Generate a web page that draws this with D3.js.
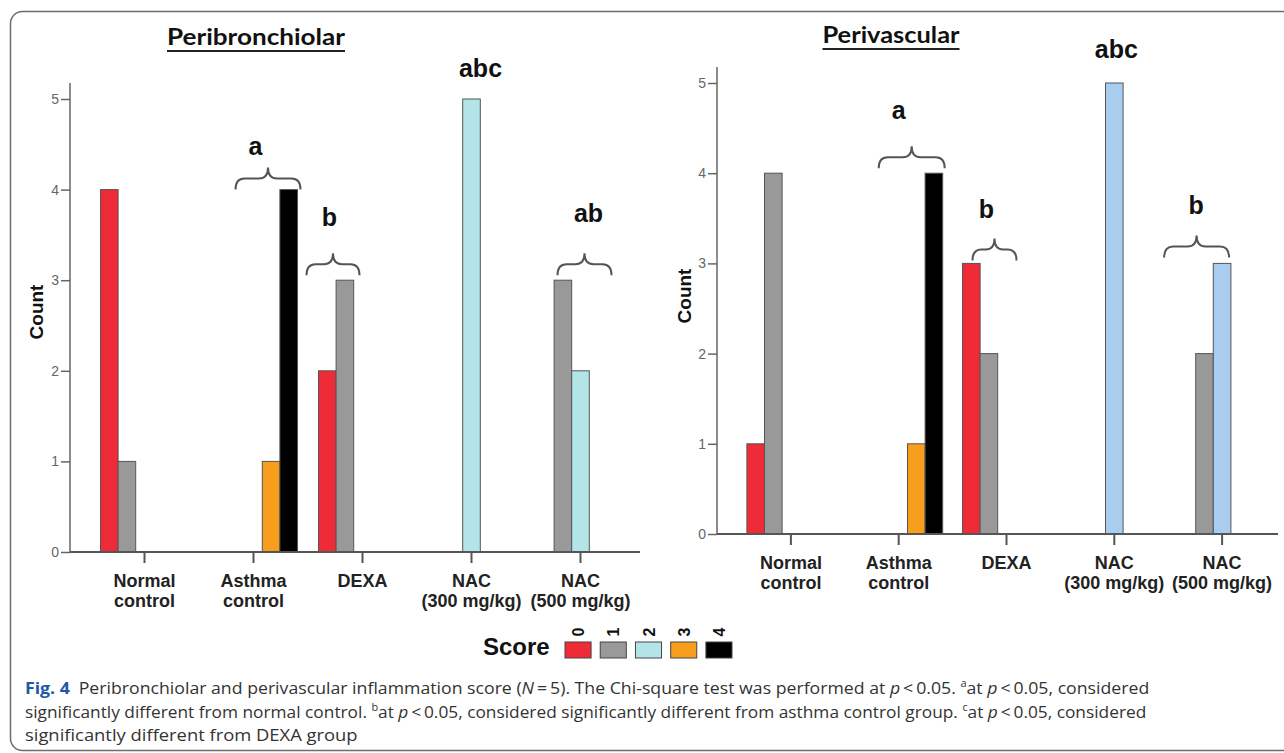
<!DOCTYPE html>
<html lang="en">
<head>
<meta charset="UTF-8" />
<title>Fig. 4 - Inflammation score</title>
<script src="https://d3js.org/d3.v7.min.js"></script>
<style>
  body { margin: 0; background: #fff; }
  svg { display: block; }
  .cat-label { font-family: "Liberation Sans", Arial, sans-serif; font-weight: bold; font-size: 18px; fill: #222; }
  .y-tick text { font-family: "Liberation Sans Narrow", "Liberation Sans", Arial, sans-serif; font-size: 14px; fill: #666; }
  .note { font-family: "Liberation Sans", Arial, sans-serif; font-weight: bold; font-size: 25px; fill: #111; }
  .caption { font-family: "Open Sans", "Noto Sans", sans-serif; font-size: 16px; fill: #333; }
</style>
</head>
<body>
<svg id="fig" width="1284" height="753"></svg>

<script>
// ---- data ----
const categories = ["Normal control", "Asthma control", "DEXA", "NAC (300 mg/kg)", "NAC (500 mg/kg)"];
const categoryLines = [["Normal", "control"], ["Asthma", "control"], ["DEXA"], ["NAC", "(300 mg/kg)"], ["NAC", "(500 mg/kg)"]];
const scores = [0, 1, 2, 3, 4];
const yTicks = [0, 1, 2, 3, 4, 5];

// counts per category, one value per score 0..4
const peribronchiolar = [
  [4, 1, 0, 0, 0],
  [0, 0, 0, 1, 4],
  [2, 3, 0, 0, 0],
  [0, 0, 5, 0, 0],
  [0, 3, 2, 0, 0]
];
const perivascular = [
  [1, 4, 0, 0, 0],
  [0, 0, 0, 1, 4],
  [3, 2, 0, 0, 0],
  [0, 0, 5, 0, 0],
  [0, 2, 3, 0, 0]
];

// significance letters: category index, letter, bar value it sits over
const periNotes = [
  { cat: 1, label: "a",   value: 4 },
  { cat: 2, label: "b",   value: 3 },
  { cat: 3, label: "abc", value: 5 },
  { cat: 4, label: "ab",  value: 3 }
];
const vascNotes = [
  { cat: 1, label: "a",   value: 4 },
  { cat: 2, label: "b",   value: 3 },
  { cat: 3, label: "abc", value: 5 },
  { cat: 4, label: "b",   value: 3 }
];

const scoreColors = ["#ee2b36", "#999999", "#b3e4e8", "#f79f1c", "#000000"];
const scoreColorsVasc = ["#ee2b36", "#999999", "#a9cdee", "#f79f1c", "#000000"];

// ---- layout ----
const svg = d3.select("#fig");

svg.append("rect")
  .attr("x", 10.5).attr("y", 11.5)
  .attr("width", 1320).attr("height", 739)
  .attr("rx", 12)
  .attr("fill", "none")
  .attr("stroke", "#6d6d6d")
  .attr("stroke-width", 1.5);

function bracePath(x0, x1, yb, h) {
  const xm = (x0 + x1) / 2, yt = yb - h, ym = yb - h * 0.5;
  const r = Math.min(9, (x1 - x0) / 5);
  return `M${x0},${yb} Q${x0},${ym} ${x0 + r},${ym} L${xm - r},${ym} Q${xm},${ym} ${xm},${yt}` +
         ` Q${xm},${ym} ${xm + r},${ym} L${x1 - r},${ym} Q${x1},${ym} ${x1},${yb}`;
}

function drawPanel(p) {
  const g = svg.append("g");

  const y = d3.scaleLinear().domain([0, 5]).range([p.zero, p.five]);
  const x = d3.scaleBand().domain(categories)
    .range([p.axisLeft + 20, p.axisLeft + 20 + 5 * p.step]);
  const xs = d3.scaleBand().domain(scores).range([-44, 44]);

  // title
  const title = g.append("text")
    .attr("x", p.titleX).attr("y", p.titleY)
    .attr("text-anchor", "middle")
    .attr("font-family", "Lato, 'Open Sans', sans-serif")
    .attr("font-weight", "bold")
    .attr("font-size", 22)
    .attr("fill", "#111")
    .attr("textLength", p.titleW)
    .attr("lengthAdjust", "spacingAndGlyphs")
    .text(p.title);
  g.append("line")
    .attr("x1", p.titleX - p.titleW / 2).attr("x2", p.titleX + p.titleW / 2)
    .attr("y1", p.titleY + 6).attr("y2", p.titleY + 6)
    .attr("stroke", "#222").attr("stroke-width", 2);

  // y axis
  const yAxis = g.append("g")
    .attr("class", "y-tick")
    .attr("transform", `translate(${p.axisLeft},0)`)
    .call(d3.axisLeft(y).tickValues(yTicks).tickFormat(d3.format("d")).tickSize(9).tickPadding(2));
  yAxis.select(".domain").remove();
  yAxis.selectAll(".tick line").attr("stroke", "#666").attr("stroke-width", 1.5);
  g.append("line")
    .attr("x1", p.axisLeft).attr("x2", p.axisLeft)
    .attr("y1", y(0)).attr("y2", y(5) - 16)
    .attr("stroke", "#666").attr("stroke-width", 1.5);

  g.append("text")
    .attr("transform", `translate(${p.countX},${p.countY}) rotate(-90)`)
    .attr("text-anchor", "middle")
    .attr("font-family", "'Liberation Sans', Arial, sans-serif")
    .attr("font-weight", "bold")
    .attr("font-size", 19)
    .attr("fill", "#111")
    .text("Count");

  // bars
  const groups = g.selectAll(".cat")
    .data(p.data)
    .enter().append("g")
      .attr("transform", (d, i) => `translate(${x(categories[i]) + x.bandwidth() / 2},0)`);

  groups.selectAll("rect")
    .data(d => d.map((v, s) => ({ score: s, value: v })).filter(e => e.value > 0))
    .enter().append("rect")
      .attr("x", d => xs(d.score))
      .attr("width", xs.bandwidth())
      .attr("y", d => y(d.value))
      .attr("height", d => y(0) - y(d.value))
      .attr("fill", d => p.colors[d.score])
      .attr("stroke", "#555")
      .attr("stroke-width", 1);

  // x axis
  const xAxis = g.append("g")
    .attr("transform", `translate(0,${y(0)})`)
    .call(d3.axisBottom(x).tickSize(11).tickFormat(""));
  xAxis.select(".domain").remove();
  xAxis.selectAll(".tick line").attr("stroke", "#555").attr("stroke-width", 2);
  g.append("line")
    .attr("x1", p.axisLeft).attr("x2", p.axisRight)
    .attr("y1", y(0)).attr("y2", y(0))
    .attr("stroke", "#555").attr("stroke-width", 2);

  categoryLines.forEach((lines, i) => {
    const t = g.append("text")
      .attr("class", "cat-label")
      .attr("text-anchor", "middle")
      .attr("x", x(categories[i]) + x.bandwidth() / 2)
      .attr("y", y(0) + 35);
    lines.forEach((l, k) => {
      t.append("tspan")
        .attr("x", x(categories[i]) + x.bandwidth() / 2)
        .attr("dy", k === 0 ? 0 : 19.5)
        .text(l);
    });
  });

  // significance letters and braces
  p.notes.forEach((n, k) => {
    const lay = p.noteLayout[k];
    const cx = x(categories[n.cat]) + x.bandwidth() / 2;
    const yb = y(n.value) + lay.lift;
    if (lay.brace) {
      g.append("path")
        .attr("d", bracePath(cx + lay.brace[0], cx + lay.brace[1], yb, 22))
        .attr("fill", "none")
        .attr("stroke", "#555")
        .attr("stroke-width", 2);
    }
    g.append("text")
      .attr("class", "note")
      .attr("text-anchor", "middle")
      .attr("x", cx + lay.dx)
      .attr("y", yb - lay.textUp)
      .text(n.label);
  });
}

drawPanel({
  data: peribronchiolar, notes: periNotes, colors: scoreColors,
  title: "Peribronchiolar", titleX: 256, titleY: 45, titleW: 178,
  axisLeft: 70, axisRight: 640, step: 109, zero: 552, five: 99,
  countX: 43, countY: 312,
  noteLayout: [
    { brace: [-18, 47], lift: 0, dx: 2, textUp: 35 },
    { brace: [-56, -3], lift: -5, dx: -33, textUp: 49 },
    { brace: null, lift: 0, dx: 9, textUp: 22 },
    { brace: [-23, 31], lift: -5, dx: 8, textUp: 53 }
  ]
});

drawPanel({
  data: perivascular, notes: vascNotes, colors: scoreColorsVasc,
  title: "Perivascular", titleX: 891, titleY: 43, titleW: 137,
  axisLeft: 717, axisRight: 1278, step: 107.8, zero: 534, five: 83,
  countX: 691, countY: 296,
  noteLayout: [
    { brace: [-20, 46], lift: -5, dx: 0, textUp: 49 },
    { brace: [-34, 10], lift: -3, dx: -20, textUp: 42 },
    { brace: null, lift: 0, dx: 2, textUp: 25 },
    { brace: [-58, 7], lift: -6, dx: -26, textUp: 43 }
  ]
});

// ---- legend ----
const legend = svg.append("g");
legend.append("text")
  .attr("x", 483).attr("y", 655)
  .attr("font-family", "'Liberation Sans', Arial, sans-serif")
  .attr("font-weight", "bold")
  .attr("font-size", 24)
  .attr("fill", "#111")
  .text("Score");
const lx = d3.scaleBand().domain(scores).range([565, 732]).paddingInner(0.26);
scores.forEach(s => {
  legend.append("rect")
    .attr("x", lx(s)).attr("y", 642)
    .attr("width", lx.bandwidth()).attr("height", 16)
    .attr("fill", scoreColors[s])
    .attr("stroke", "#444").attr("stroke-width", 1);
  legend.append("text")
    .attr("transform", `translate(${lx(s) + lx.bandwidth() / 2 + 6},632) rotate(-90)`)
    .attr("text-anchor", "middle")
    .attr("font-family", "'Liberation Sans', Arial, sans-serif")
    .attr("font-weight", "bold")
    .attr("font-size", 16)
    .attr("fill", "#111")
    .text(s);
});

// ---- caption ----
const captionLines = [
  [["b", "Fig. 4"], ["t", "\u2002Peribronchiolar and perivascular inflammation score ("], ["i", "N"], ["t", "\u2009=\u20095). The Chi-square test was performed at "], ["i", "p"], ["t", "\u2009<\u20090.05. "], ["s", "a"], ["t", "at "], ["i", "p"], ["t", "\u2009<\u20090.05, considered"]],
  [["t", "significantly different from normal control. "], ["s", "b"], ["t", "at "], ["i", "p"], ["t", "\u2009<\u20090.05, considered significantly different from asthma control group. "], ["s", "c"], ["t", "at "], ["i", "p"], ["t", "\u2009<\u20090.05, considered"]],
  [["t", "significantly different from DEXA group"]]
];
const captionEnds = [1150, 1147, 358];
const captionY = [694, 718, 741];

captionLines.forEach((parts, li) => {
  const t = svg.append("text").attr("class", "caption").attr("x", 0).attr("y", captionY[li]);
  parts.forEach(([kind, str]) => {
    const ts = t.append("tspan").text(str);
    if (kind === "b") ts.attr("font-weight", "bold").attr("fill", "#1b5aa5");
    if (kind === "i") ts.attr("font-style", "italic");
    if (kind === "s") ts.attr("font-size", 10).attr("baseline-shift", "super");
  });
  const w = t.node().getComputedTextLength();
  const x0 = 25;
  t.attr("transform", `translate(${x0},0) scale(${(captionEnds[li] - x0) / w},1)`);
});
</script>
</body>
</html>
